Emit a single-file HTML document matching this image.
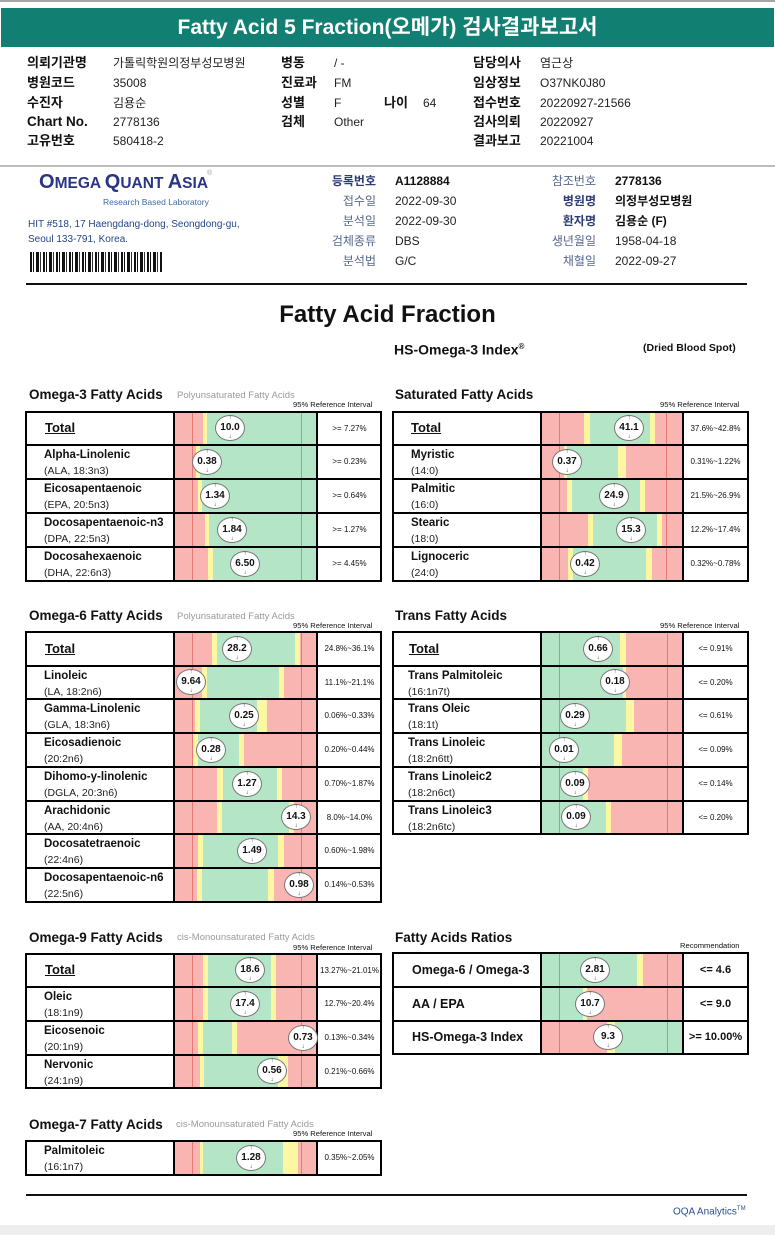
<!DOCTYPE html>
<html><head><meta charset="utf-8">
<style>
html,body{margin:0;padding:0;background:#fff}
body{width:775px;height:1235px;position:relative;overflow:hidden;font-family:"Liberation Sans","Noto Sans CJK KR",sans-serif;color:#111}
.a{position:absolute;white-space:nowrap}
.s{position:absolute}
.r{background:#f8b5b2}
.y{background:#fbf7a3}
.g{background:#b4e5c6}
.lr{position:absolute;width:1px;background:#e77874}
.lg{position:absolute;width:1px;background:#66c086}
.hb{position:absolute;height:2px;background:#000}
.vb{position:absolute;width:2px;background:#000}
.bx{position:absolute;border:2px solid #000;box-sizing:border-box}
.bb{position:absolute;width:30px;height:26px;border:1px solid #777;box-sizing:border-box;border-radius:50%;background:#fff;font:bold 10px/24px "Liberation Sans",sans-serif;text-align:center;color:#111}
.bb:before{content:"↑";position:absolute;left:0;right:0;top:-1px;font-size:6px;line-height:7px;font-weight:normal;color:#333}
.bb:after{content:"↓";position:absolute;left:0;right:0;bottom:-1px;font-size:6px;line-height:7px;font-weight:normal;color:#333}
.nm{position:absolute;font-weight:bold;font-size:11.5px;line-height:14px;white-space:nowrap}
.sb{position:absolute;font-size:10.5px;line-height:14px;white-space:nowrap;color:#222}
.tt{position:absolute;font-weight:bold;font-size:13px;line-height:16px;text-decoration:underline}
.rg{position:absolute;font-size:8px;text-align:center;white-space:nowrap}
.st{position:absolute;font-weight:bold;font-size:13.5px;line-height:16px;white-space:nowrap}
.ss{position:absolute;font-size:9.5px;line-height:12px;color:#9a9a9a;white-space:nowrap}
.ri{position:absolute;font-size:7.6px;line-height:10px;white-space:nowrap}
.lb{position:absolute;font-weight:bold;font-size:13px;line-height:16px;white-space:nowrap}
.vl{position:absolute;font-size:12px;line-height:16px;white-space:nowrap;color:#222}
.ml{position:absolute;font-size:12px;line-height:16px;white-space:nowrap;color:#56678e;text-align:right}
.mlb{position:absolute;font-size:12px;line-height:16px;white-space:nowrap;color:#2b3d73;font-weight:bold;text-align:right}
.mv{position:absolute;font-size:12px;line-height:16px;white-space:nowrap;color:#222}
.mvb{position:absolute;font-size:12px;line-height:16px;white-space:nowrap;color:#111;font-weight:bold}
.rn{position:absolute;font-weight:bold;font-size:12.5px;white-space:nowrap}
.rr{position:absolute;font-weight:bold;font-size:11px;text-align:center;white-space:nowrap}
</style></head><body>

<!-- top -->
<div class="s" style="left:0;top:0;width:775px;height:2px;background:#a5a5a5"></div>
<div class="s" style="left:1px;top:8px;width:773px;height:39px;background:#127f73"></div>
<div class="a" style="left:0;top:8px;width:775px;text-align:center;color:#fff;font-weight:bold;font-size:21px;line-height:39px">Fatty Acid 5 Fraction(오메가) 검사결과보고서</div>

<div class="lb" style="left:27px;top:55px">의뢰기관명</div>
<div class="lb" style="left:27px;top:75px">병원코드</div>
<div class="lb" style="left:27px;top:95px">수진자</div>
<div class="lb" style="left:27px;top:114px;font-size:13.5px">Chart No.</div>
<div class="lb" style="left:27px;top:133px">고유번호</div>
<div class="vl" style="left:113px;top:55px">가톨릭학원의정부성모병원</div>
<div class="vl" style="left:113px;top:75px">35008</div>
<div class="vl" style="left:113px;top:95px">김용순</div>
<div class="vl" style="left:113px;top:114px">2778136</div>
<div class="vl" style="left:113px;top:133px">580418-2</div>

<div class="lb" style="left:281px;top:55px">병동</div>
<div class="lb" style="left:281px;top:75px">진료과</div>
<div class="lb" style="left:281px;top:95px">성별</div>
<div class="lb" style="left:281px;top:114px">검체</div>
<div class="vl" style="left:334px;top:55px">/ -</div>
<div class="vl" style="left:334px;top:75px">FM</div>
<div class="vl" style="left:334px;top:95px">F</div>
<div class="vl" style="left:334px;top:114px">Other</div>
<div class="lb" style="left:384px;top:95px">나이</div>
<div class="vl" style="left:423px;top:95px">64</div>

<div class="lb" style="left:473px;top:55px">담당의사</div>
<div class="lb" style="left:473px;top:75px">임상정보</div>
<div class="lb" style="left:473px;top:95px">접수번호</div>
<div class="lb" style="left:473px;top:114px">검사의뢰</div>
<div class="lb" style="left:473px;top:133px">결과보고</div>
<div class="vl" style="left:540px;top:55px">염근상</div>
<div class="vl" style="left:540px;top:75px">O37NK0J80</div>
<div class="vl" style="left:540px;top:95px">20220927-21566</div>
<div class="vl" style="left:540px;top:114px">20220927</div>
<div class="vl" style="left:540px;top:133px">20221004</div>

<div class="s" style="left:0;top:165px;width:775px;height:2px;background:#bdbdbd"></div>

<!-- lab -->
<div class="a" style="left:39px;top:170px;color:#2b3585;font-weight:bold;line-height:24px"><span style="font-size:20px">O</span><span style="font-size:15.5px">MEGA </span><span style="font-size:20px">Q</span><span style="font-size:15.5px">UANT </span><span style="font-size:20px">A</span><span style="font-size:15.5px">SIA</span></div>
<div class="a" style="left:207px;top:170px;font-size:7px;color:#999">®</div>
<div class="a" style="left:103px;top:196px;font-size:8.5px;line-height:12px;color:#3b6aa5">Research Based Laboratory</div>
<div class="a" style="left:28px;top:218px;font-size:10px;line-height:13px;color:#24468a">HIT #518, 17 Haengdang-dong, Seongdong-gu,</div>
<div class="a" style="left:28px;top:233px;font-size:10px;line-height:13px;color:#24468a">Seoul 133-791, Korea.</div>
<div class="s" style="left:30px;top:252px;width:133px;height:20px;background:repeating-linear-gradient(90deg,#111 0 2px,#fff 2px 3px,#111 3px 4px,#fff 4px 6px,#111 6px 9px,#fff 9px 10px,#333 10px 11px,#fff 11px 13px)"></div>

<div class="mlb" style="right:399px;top:173px">등록번호</div>
<div class="ml" style="right:399px;top:193px">접수일</div>
<div class="ml" style="right:399px;top:213px">분석일</div>
<div class="ml" style="right:399px;top:233px">검체종류</div>
<div class="ml" style="right:399px;top:253px">분석법</div>
<div class="mvb" style="left:395px;top:173px">A1128884</div>
<div class="mv" style="left:395px;top:193px">2022-09-30</div>
<div class="mv" style="left:395px;top:213px">2022-09-30</div>
<div class="mv" style="left:395px;top:233px">DBS</div>
<div class="mv" style="left:395px;top:253px">G/C</div>

<div class="ml" style="right:179px;top:173px">참조번호</div>
<div class="mlb" style="right:179px;top:193px">병원명</div>
<div class="mlb" style="right:179px;top:213px">환자명</div>
<div class="ml" style="right:179px;top:233px">생년월일</div>
<div class="ml" style="right:179px;top:253px">채혈일</div>
<div class="mvb" style="left:615px;top:173px">2778136</div>
<div class="mvb" style="left:615px;top:193px">의정부성모병원</div>
<div class="mvb" style="left:615px;top:213px">김용순 (F)</div>
<div class="mv" style="left:615px;top:233px">1958-04-18</div>
<div class="mv" style="left:615px;top:253px">2022-09-27</div>

<div class="s" style="left:26px;top:283px;width:721px;height:2px;background:#111"></div>

<div class="a" style="left:0;top:301px;width:775px;text-align:center;font-weight:bold;font-size:24px;line-height:28px">Fatty Acid Fraction</div>
<div class="a" style="left:394px;top:338px;font-weight:bold;font-size:14px;line-height:18px">HS-Omega-3 Index<sup style="font-size:8px">®</sup></div>
<div class="a" style="left:643px;top:341px;font-weight:bold;font-size:10.5px;line-height:14px">(Dried Blood Spot)</div>

<!-- ===== Omega-3 ===== -->
<div class="st" style="left:29px;top:387px">Omega-3 Fatty Acids</div>
<div class="ss" style="left:177px;top:390px">Polyunsaturated Fatty Acids</div>
<div class="ri" style="left:293px;top:400px">95% Reference Interval</div>

<div class="s r" style="left:175px;top:412px;width:28px;height:33px"></div><div class="s y" style="left:203px;top:412px;width:4px;height:33px"></div><div class="s g" style="left:207px;top:412px;width:109px;height:33px"></div>
<div class="s r" style="left:175px;top:445px;width:21px;height:34px"></div><div class="s y" style="left:196px;top:445px;width:4px;height:34px"></div><div class="s g" style="left:200px;top:445px;width:116px;height:34px"></div>
<div class="s r" style="left:175px;top:479px;width:23px;height:34px"></div><div class="s y" style="left:198px;top:479px;width:4px;height:34px"></div><div class="s g" style="left:202px;top:479px;width:114px;height:34px"></div>
<div class="s r" style="left:175px;top:513px;width:30px;height:34px"></div><div class="s y" style="left:205px;top:513px;width:4px;height:34px"></div><div class="s g" style="left:209px;top:513px;width:107px;height:34px"></div>
<div class="s r" style="left:175px;top:547px;width:33px;height:34px"></div><div class="s y" style="left:208px;top:547px;width:5px;height:34px"></div><div class="s g" style="left:213px;top:547px;width:103px;height:34px"></div>
<div class="lr" style="left:192px;top:412px;height:169px"></div>
<div class="lg" style="left:301px;top:412px;height:169px"></div>
<div class="bx" style="left:25px;top:411px;width:357px;height:171px"></div>
<div class="vb" style="left:173px;top:411px;height:171px"></div>
<div class="vb" style="left:316px;top:411px;height:171px"></div>
<div class="hb" style="left:25px;top:444px;width:357px"></div>
<div class="hb" style="left:25px;top:478px;width:357px"></div>
<div class="hb" style="left:25px;top:512px;width:357px"></div>
<div class="hb" style="left:25px;top:546px;width:357px"></div>
<div class="tt" style="left:45px;top:420px">Total</div>
<div class="nm" style="left:44px;top:448px">Alpha-Linolenic</div><div class="sb" style="left:44px;top:464px">(ALA, 18:3n3)</div>
<div class="nm" style="left:44px;top:482px">Eicosapentaenoic</div><div class="sb" style="left:44px;top:498px">(EPA, 20:5n3)</div>
<div class="nm" style="left:44px;top:516px">Docosapentaenoic-n3</div><div class="sb" style="left:44px;top:532px">(DPA, 22:5n3)</div>
<div class="nm" style="left:44px;top:550px">Docosahexaenoic</div><div class="sb" style="left:44px;top:566px">(DHA, 22:6n3)</div>
<div class="rg" style="left:318px;top:412px;width:63px;line-height:33px">&gt;= 7.27%</div>
<div class="rg" style="left:318px;top:445px;width:63px;line-height:34px">&gt;= 0.23%</div>
<div class="rg" style="left:318px;top:479px;width:63px;line-height:34px">&gt;= 0.64%</div>
<div class="rg" style="left:318px;top:513px;width:63px;line-height:34px">&gt;= 1.27%</div>
<div class="rg" style="left:318px;top:547px;width:63px;line-height:34px">&gt;= 4.45%</div>
<div class="bb" style="left:215px;top:415px">10.0</div>
<div class="bb" style="left:192px;top:449px">0.38</div>
<div class="bb" style="left:200px;top:483px">1.34</div>
<div class="bb" style="left:217px;top:517px">1.84</div>
<div class="bb" style="left:230px;top:551px">6.50</div>

<!-- ===== Saturated ===== -->
<div class="st" style="left:395px;top:387px">Saturated Fatty Acids</div>
<div class="ri" style="left:660px;top:400px">95% Reference Interval</div>

<div class="s r" style="left:542px;top:412px;width:42px;height:33px"></div><div class="s y" style="left:584px;top:412px;width:6px;height:33px"></div><div class="s g" style="left:590px;top:412px;width:60px;height:33px"></div><div class="s y" style="left:650px;top:412px;width:5px;height:33px"></div><div class="s r" style="left:655px;top:412px;width:27px;height:33px"></div>
<div class="s r" style="left:542px;top:445px;width:22px;height:34px"></div><div class="s y" style="left:564px;top:445px;width:3px;height:34px"></div><div class="s g" style="left:567px;top:445px;width:51px;height:34px"></div><div class="s y" style="left:618px;top:445px;width:8px;height:34px"></div><div class="s r" style="left:626px;top:445px;width:56px;height:34px"></div>
<div class="s r" style="left:542px;top:479px;width:25px;height:34px"></div><div class="s y" style="left:567px;top:479px;width:5px;height:34px"></div><div class="s g" style="left:572px;top:479px;width:68px;height:34px"></div><div class="s y" style="left:640px;top:479px;width:5px;height:34px"></div><div class="s r" style="left:645px;top:479px;width:37px;height:34px"></div>
<div class="s r" style="left:542px;top:513px;width:46px;height:34px"></div><div class="s y" style="left:588px;top:513px;width:5px;height:34px"></div><div class="s g" style="left:593px;top:513px;width:64px;height:34px"></div><div class="s y" style="left:657px;top:513px;width:5px;height:34px"></div><div class="s r" style="left:662px;top:513px;width:20px;height:34px"></div>
<div class="s r" style="left:542px;top:547px;width:26px;height:34px"></div><div class="s y" style="left:568px;top:547px;width:5px;height:34px"></div><div class="s g" style="left:573px;top:547px;width:73px;height:34px"></div><div class="s y" style="left:646px;top:547px;width:6px;height:34px"></div><div class="s r" style="left:652px;top:547px;width:30px;height:34px"></div>
<div class="lr" style="left:559px;top:412px;height:169px"></div>
<div class="lr" style="left:666px;top:412px;height:169px"></div>
<div class="bx" style="left:392px;top:411px;width:357px;height:171px"></div>
<div class="vb" style="left:540px;top:411px;height:171px"></div>
<div class="vb" style="left:682px;top:411px;height:171px"></div>
<div class="hb" style="left:392px;top:444px;width:357px"></div>
<div class="hb" style="left:392px;top:478px;width:357px"></div>
<div class="hb" style="left:392px;top:512px;width:357px"></div>
<div class="hb" style="left:392px;top:546px;width:357px"></div>
<div class="tt" style="left:411px;top:420px">Total</div>
<div class="nm" style="left:411px;top:448px">Myristic</div><div class="sb" style="left:411px;top:464px">(14:0)</div>
<div class="nm" style="left:411px;top:482px">Palmitic</div><div class="sb" style="left:411px;top:498px">(16:0)</div>
<div class="nm" style="left:411px;top:516px">Stearic</div><div class="sb" style="left:411px;top:532px">(18:0)</div>
<div class="nm" style="left:411px;top:550px">Lignoceric</div><div class="sb" style="left:411px;top:566px">(24:0)</div>
<div class="rg" style="left:684px;top:412px;width:63px;line-height:33px">37.6%~42.8%</div>
<div class="rg" style="left:684px;top:445px;width:63px;line-height:34px">0.31%~1.22%</div>
<div class="rg" style="left:684px;top:479px;width:63px;line-height:34px">21.5%~26.9%</div>
<div class="rg" style="left:684px;top:513px;width:63px;line-height:34px">12.2%~17.4%</div>
<div class="rg" style="left:684px;top:547px;width:63px;line-height:34px">0.32%~0.78%</div>
<div class="bb" style="left:614px;top:415px">41.1</div>
<div class="bb" style="left:552px;top:449px">0.37</div>
<div class="bb" style="left:599px;top:483px">24.9</div>
<div class="bb" style="left:616px;top:517px">15.3</div>
<div class="bb" style="left:570px;top:551px">0.42</div>

<!-- ===== Omega-6 ===== -->
<div class="st" style="left:29px;top:608px">Omega-6 Fatty Acids</div>
<div class="ss" style="left:177px;top:611px">Polyunsaturated Fatty Acids</div>
<div class="ri" style="left:293px;top:621px">95% Reference Interval</div>

<div class="s r" style="left:175px;top:632px;width:37px;height:34px"></div><div class="s y" style="left:212px;top:632px;width:5px;height:34px"></div><div class="s g" style="left:217px;top:632px;width:78px;height:34px"></div><div class="s y" style="left:295px;top:632px;width:5px;height:34px"></div><div class="s r" style="left:300px;top:632px;width:16px;height:34px"></div>
<div class="s r" style="left:175px;top:666px;width:27px;height:33px"></div><div class="s y" style="left:202px;top:666px;width:5px;height:33px"></div><div class="s g" style="left:207px;top:666px;width:72px;height:33px"></div><div class="s y" style="left:279px;top:666px;width:5px;height:33px"></div><div class="s r" style="left:284px;top:666px;width:32px;height:33px"></div>
<div class="s r" style="left:175px;top:699px;width:20px;height:34px"></div><div class="s y" style="left:195px;top:699px;width:5px;height:34px"></div><div class="s g" style="left:200px;top:699px;width:57px;height:34px"></div><div class="s y" style="left:257px;top:699px;width:10px;height:34px"></div><div class="s r" style="left:267px;top:699px;width:49px;height:34px"></div>
<div class="s r" style="left:175px;top:733px;width:18px;height:34px"></div><div class="s y" style="left:193px;top:733px;width:5px;height:34px"></div><div class="s g" style="left:198px;top:733px;width:41px;height:34px"></div><div class="s y" style="left:239px;top:733px;width:5px;height:34px"></div><div class="s r" style="left:244px;top:733px;width:72px;height:34px"></div>
<div class="s r" style="left:175px;top:767px;width:42px;height:34px"></div><div class="s y" style="left:217px;top:767px;width:6px;height:34px"></div><div class="s g" style="left:223px;top:767px;width:54px;height:34px"></div><div class="s y" style="left:277px;top:767px;width:5px;height:34px"></div><div class="s r" style="left:282px;top:767px;width:34px;height:34px"></div>
<div class="s r" style="left:175px;top:801px;width:42px;height:33px"></div><div class="s y" style="left:217px;top:801px;width:5px;height:33px"></div><div class="s g" style="left:222px;top:801px;width:67px;height:33px"></div><div class="s y" style="left:289px;top:801px;width:5px;height:33px"></div><div class="s r" style="left:294px;top:801px;width:22px;height:33px"></div>
<div class="s r" style="left:175px;top:834px;width:23px;height:34px"></div><div class="s y" style="left:198px;top:834px;width:5px;height:34px"></div><div class="s g" style="left:203px;top:834px;width:75px;height:34px"></div><div class="s y" style="left:278px;top:834px;width:6px;height:34px"></div><div class="s r" style="left:284px;top:834px;width:32px;height:34px"></div>
<div class="s r" style="left:175px;top:868px;width:22px;height:34px"></div><div class="s y" style="left:197px;top:868px;width:5px;height:34px"></div><div class="s g" style="left:202px;top:868px;width:66px;height:34px"></div><div class="s y" style="left:268px;top:868px;width:6px;height:34px"></div><div class="s r" style="left:274px;top:868px;width:42px;height:34px"></div>
<div class="lr" style="left:192px;top:632px;height:270px"></div>
<div class="lr" style="left:301px;top:632px;height:270px"></div>
<div class="bx" style="left:25px;top:631px;width:357px;height:272px"></div>
<div class="vb" style="left:173px;top:631px;height:272px"></div>
<div class="vb" style="left:316px;top:631px;height:272px"></div>
<div class="hb" style="left:25px;top:665px;width:357px"></div>
<div class="hb" style="left:25px;top:698px;width:357px"></div>
<div class="hb" style="left:25px;top:732px;width:357px"></div>
<div class="hb" style="left:25px;top:766px;width:357px"></div>
<div class="hb" style="left:25px;top:800px;width:357px"></div>
<div class="hb" style="left:25px;top:833px;width:357px"></div>
<div class="hb" style="left:25px;top:867px;width:357px"></div>
<div class="tt" style="left:45px;top:641px">Total</div>
<div class="nm" style="left:44px;top:669px">Linoleic</div><div class="sb" style="left:44px;top:685px">(LA, 18:2n6)</div>
<div class="nm" style="left:44px;top:702px">Gamma-Linolenic</div><div class="sb" style="left:44px;top:718px">(GLA, 18:3n6)</div>
<div class="nm" style="left:44px;top:736px">Eicosadienoic</div><div class="sb" style="left:44px;top:752px">(20:2n6)</div>
<div class="nm" style="left:44px;top:770px">Dihomo-y-linolenic</div><div class="sb" style="left:44px;top:786px">(DGLA, 20:3n6)</div>
<div class="nm" style="left:44px;top:804px">Arachidonic</div><div class="sb" style="left:44px;top:820px">(AA, 20:4n6)</div>
<div class="nm" style="left:44px;top:837px">Docosatetraenoic</div><div class="sb" style="left:44px;top:853px">(22:4n6)</div>
<div class="nm" style="left:44px;top:871px">Docosapentaenoic-n6</div><div class="sb" style="left:44px;top:887px">(22:5n6)</div>
<div class="rg" style="left:318px;top:632px;width:63px;line-height:34px">24.8%~36.1%</div>
<div class="rg" style="left:318px;top:666px;width:63px;line-height:33px">11.1%~21.1%</div>
<div class="rg" style="left:318px;top:699px;width:63px;line-height:34px">0.06%~0.33%</div>
<div class="rg" style="left:318px;top:733px;width:63px;line-height:34px">0.20%~0.44%</div>
<div class="rg" style="left:318px;top:767px;width:63px;line-height:34px">0.70%~1.87%</div>
<div class="rg" style="left:318px;top:801px;width:63px;line-height:33px">8.0%~14.0%</div>
<div class="rg" style="left:318px;top:834px;width:63px;line-height:34px">0.60%~1.98%</div>
<div class="rg" style="left:318px;top:868px;width:63px;line-height:34px">0.14%~0.53%</div>
<div class="bb" style="left:222px;top:636px">28.2</div>
<div class="bb" style="left:176px;top:669px">9.64</div>
<div class="bb" style="left:229px;top:703px">0.25</div>
<div class="bb" style="left:196px;top:737px">0.28</div>
<div class="bb" style="left:232px;top:771px">1.27</div>
<div class="bb" style="left:281px;top:804px">14.3</div>
<div class="bb" style="left:237px;top:838px">1.49</div>
<div class="bb" style="left:284px;top:872px">0.98</div>

<!-- ===== Trans ===== -->
<div class="st" style="left:395px;top:608px">Trans Fatty Acids</div>
<div class="ri" style="left:660px;top:621px">95% Reference Interval</div>

<div class="s g" style="left:542px;top:632px;width:78px;height:34px"></div><div class="s y" style="left:620px;top:632px;width:6px;height:34px"></div><div class="s r" style="left:626px;top:632px;width:56px;height:34px"></div>
<div class="s g" style="left:542px;top:666px;width:81px;height:33px"></div><div class="s y" style="left:623px;top:666px;width:3px;height:33px"></div><div class="s r" style="left:626px;top:666px;width:56px;height:33px"></div>
<div class="s g" style="left:542px;top:699px;width:84px;height:34px"></div><div class="s y" style="left:626px;top:699px;width:8px;height:34px"></div><div class="s r" style="left:634px;top:699px;width:48px;height:34px"></div>
<div class="s g" style="left:542px;top:733px;width:72px;height:34px"></div><div class="s y" style="left:614px;top:733px;width:8px;height:34px"></div><div class="s r" style="left:622px;top:733px;width:60px;height:34px"></div>
<div class="s g" style="left:542px;top:767px;width:41px;height:34px"></div><div class="s y" style="left:583px;top:767px;width:5px;height:34px"></div><div class="s r" style="left:588px;top:767px;width:94px;height:34px"></div>
<div class="s g" style="left:542px;top:801px;width:64px;height:33px"></div><div class="s y" style="left:606px;top:801px;width:5px;height:33px"></div><div class="s r" style="left:611px;top:801px;width:71px;height:33px"></div>
<div class="lg" style="left:559px;top:632px;height:202px"></div>
<div class="lr" style="left:667px;top:632px;height:202px"></div>
<div class="bx" style="left:392px;top:631px;width:357px;height:204px"></div>
<div class="vb" style="left:540px;top:631px;height:204px"></div>
<div class="vb" style="left:682px;top:631px;height:204px"></div>
<div class="hb" style="left:392px;top:665px;width:357px"></div>
<div class="hb" style="left:392px;top:698px;width:357px"></div>
<div class="hb" style="left:392px;top:732px;width:357px"></div>
<div class="hb" style="left:392px;top:766px;width:357px"></div>
<div class="hb" style="left:392px;top:800px;width:357px"></div>
<div class="tt" style="left:409px;top:641px">Total</div>
<div class="nm" style="left:408px;top:669px">Trans Palmitoleic</div><div class="sb" style="left:408px;top:685px">(16:1n7t)</div>
<div class="nm" style="left:408px;top:702px">Trans Oleic</div><div class="sb" style="left:408px;top:718px">(18:1t)</div>
<div class="nm" style="left:408px;top:736px">Trans Linoleic</div><div class="sb" style="left:408px;top:752px">(18:2n6tt)</div>
<div class="nm" style="left:408px;top:770px">Trans Linoleic2</div><div class="sb" style="left:408px;top:786px">(18:2n6ct)</div>
<div class="nm" style="left:408px;top:804px">Trans Linoleic3</div><div class="sb" style="left:408px;top:820px">(18:2n6tc)</div>
<div class="rg" style="left:684px;top:632px;width:63px;line-height:34px">&lt;= 0.91%</div>
<div class="rg" style="left:684px;top:666px;width:63px;line-height:33px">&lt;= 0.20%</div>
<div class="rg" style="left:684px;top:699px;width:63px;line-height:34px">&lt;= 0.61%</div>
<div class="rg" style="left:684px;top:733px;width:63px;line-height:34px">&lt;= 0.09%</div>
<div class="rg" style="left:684px;top:767px;width:63px;line-height:34px">&lt;= 0.14%</div>
<div class="rg" style="left:684px;top:801px;width:63px;line-height:33px">&lt;= 0.20%</div>
<div class="bb" style="left:583px;top:636px">0.66</div>
<div class="bb" style="left:600px;top:669px">0.18</div>
<div class="bb" style="left:560px;top:703px">0.29</div>
<div class="bb" style="left:549px;top:737px">0.01</div>
<div class="bb" style="left:560px;top:771px">0.09</div>
<div class="bb" style="left:561px;top:804px">0.09</div>

<!-- ===== Omega-9 ===== -->
<div class="st" style="left:29px;top:930px">Omega-9 Fatty Acids</div>
<div class="ss" style="left:177px;top:932px">cis-Monounsaturated Fatty Acids</div>
<div class="ri" style="left:293px;top:943px">95% Reference Interval</div>

<div class="s r" style="left:175px;top:954px;width:28px;height:33px"></div><div class="s y" style="left:203px;top:954px;width:5px;height:33px"></div><div class="s g" style="left:208px;top:954px;width:63px;height:33px"></div><div class="s y" style="left:271px;top:954px;width:5px;height:33px"></div><div class="s r" style="left:276px;top:954px;width:40px;height:33px"></div>
<div class="s r" style="left:175px;top:987px;width:28px;height:34px"></div><div class="s y" style="left:203px;top:987px;width:5px;height:34px"></div><div class="s g" style="left:208px;top:987px;width:63px;height:34px"></div><div class="s y" style="left:271px;top:987px;width:5px;height:34px"></div><div class="s r" style="left:276px;top:987px;width:40px;height:34px"></div>
<div class="s r" style="left:175px;top:1021px;width:23px;height:34px"></div><div class="s y" style="left:198px;top:1021px;width:5px;height:34px"></div><div class="s g" style="left:203px;top:1021px;width:29px;height:34px"></div><div class="s y" style="left:232px;top:1021px;width:5px;height:34px"></div><div class="s r" style="left:237px;top:1021px;width:79px;height:34px"></div>
<div class="s r" style="left:175px;top:1055px;width:25px;height:33px"></div><div class="s y" style="left:200px;top:1055px;width:4px;height:33px"></div><div class="s g" style="left:204px;top:1055px;width:74px;height:33px"></div><div class="s y" style="left:278px;top:1055px;width:10px;height:33px"></div><div class="s r" style="left:288px;top:1055px;width:28px;height:33px"></div>
<div class="lr" style="left:192px;top:954px;height:134px"></div>
<div class="lr" style="left:301px;top:954px;height:134px"></div>
<div class="bx" style="left:25px;top:953px;width:357px;height:136px"></div>
<div class="vb" style="left:173px;top:953px;height:136px"></div>
<div class="vb" style="left:316px;top:953px;height:136px"></div>
<div class="hb" style="left:25px;top:986px;width:357px"></div>
<div class="hb" style="left:25px;top:1020px;width:357px"></div>
<div class="hb" style="left:25px;top:1054px;width:357px"></div>
<div class="tt" style="left:45px;top:962px">Total</div>
<div class="nm" style="left:44px;top:990px">Oleic</div><div class="sb" style="left:44px;top:1006px">(18:1n9)</div>
<div class="nm" style="left:44px;top:1024px">Eicosenoic</div><div class="sb" style="left:44px;top:1040px">(20:1n9)</div>
<div class="nm" style="left:44px;top:1058px">Nervonic</div><div class="sb" style="left:44px;top:1074px">(24:1n9)</div>
<div class="rg" style="left:318px;top:954px;width:63px;line-height:33px">13.27%~21.01%</div>
<div class="rg" style="left:318px;top:987px;width:63px;line-height:34px">12.7%~20.4%</div>
<div class="rg" style="left:318px;top:1021px;width:63px;line-height:34px">0.13%~0.34%</div>
<div class="rg" style="left:318px;top:1055px;width:63px;line-height:33px">0.21%~0.66%</div>
<div class="bb" style="left:235px;top:957px">18.6</div>
<div class="bb" style="left:230px;top:991px">17.4</div>
<div class="bb" style="left:288px;top:1025px">0.73</div>
<div class="bb" style="left:257px;top:1058px">0.56</div>

<!-- ===== Ratios ===== -->
<div class="st" style="left:395px;top:930px">Fatty Acids Ratios</div>
<div class="ri" style="left:680px;top:941px">Recommendation</div>

<div class="s g" style="left:542px;top:953px;width:95px;height:34px"></div><div class="s y" style="left:637px;top:953px;width:6px;height:34px"></div><div class="s r" style="left:643px;top:953px;width:39px;height:34px"></div>
<div class="s g" style="left:542px;top:987px;width:41px;height:34px"></div><div class="s y" style="left:583px;top:987px;width:4px;height:34px"></div><div class="s r" style="left:587px;top:987px;width:95px;height:34px"></div>
<div class="s r" style="left:542px;top:1021px;width:65px;height:33px"></div><div class="s y" style="left:607px;top:1021px;width:8px;height:33px"></div><div class="s g" style="left:615px;top:1021px;width:67px;height:33px"></div>
<div class="lg" style="left:559px;top:953px;height:68px"></div>
<div class="lr" style="left:667px;top:953px;height:68px"></div>
<div class="lr" style="left:559px;top:1021px;height:33px"></div>
<div class="lg" style="left:667px;top:1021px;height:33px"></div>
<div class="bx" style="left:392px;top:952px;width:357px;height:103px"></div>
<div class="vb" style="left:540px;top:952px;height:103px"></div>
<div class="vb" style="left:682px;top:952px;height:103px"></div>
<div class="hb" style="left:392px;top:986px;width:357px"></div>
<div class="hb" style="left:392px;top:1020px;width:357px"></div>
<div class="rn" style="left:412px;top:953px;line-height:34px">Omega-6 / Omega-3</div>
<div class="rn" style="left:412px;top:987px;line-height:34px">AA / EPA</div>
<div class="rn" style="left:412px;top:1021px;line-height:33px">HS-Omega-3 Index</div>
<div class="rr" style="left:684px;top:953px;width:63px;line-height:34px">&lt;= 4.6</div>
<div class="rr" style="left:684px;top:987px;width:63px;line-height:34px">&lt;= 9.0</div>
<div class="rr" style="left:684px;top:1021px;width:63px;line-height:33px">&gt;= 10.00%</div>
<div class="bb" style="left:580px;top:957px">2.81</div>
<div class="bb" style="left:575px;top:991px">10.7</div>
<div class="bb" style="left:593px;top:1024px">9.3</div>

<!-- ===== Omega-7 ===== -->
<div class="st" style="left:29px;top:1117px">Omega-7 Fatty Acids</div>
<div class="ss" style="left:176px;top:1119px">cis-Monounsaturated Fatty Acids</div>
<div class="ri" style="left:293px;top:1129px">95% Reference Interval</div>

<div class="s r" style="left:175px;top:1141px;width:25px;height:34px"></div><div class="s y" style="left:200px;top:1141px;width:3px;height:34px"></div><div class="s g" style="left:203px;top:1141px;width:80px;height:34px"></div><div class="s y" style="left:283px;top:1141px;width:15px;height:34px"></div><div class="s r" style="left:298px;top:1141px;width:18px;height:34px"></div>
<div class="lr" style="left:192px;top:1141px;height:34px"></div>
<div class="lr" style="left:301px;top:1141px;height:34px"></div>
<div class="bx" style="left:25px;top:1140px;width:357px;height:36px"></div>
<div class="vb" style="left:173px;top:1140px;height:36px"></div>
<div class="vb" style="left:316px;top:1140px;height:36px"></div>
<div class="nm" style="left:44px;top:1144px">Palmitoleic</div><div class="sb" style="left:44px;top:1160px">(16:1n7)</div>
<div class="rg" style="left:318px;top:1141px;width:63px;line-height:34px">0.35%~2.05%</div>
<div class="bb" style="left:236px;top:1145px">1.28</div>

<!-- footer -->
<div class="s" style="left:26px;top:1194px;width:721px;height:2px;background:#111"></div>
<div class="a" style="left:673px;top:1202px;font-size:10px;line-height:14px;color:#2b4f8e">OQA Analytics<sup style="font-size:6px">TM</sup></div>
<div class="s" style="left:0;top:1225px;width:775px;height:10px;background:#eeeeee"></div>

</body></html>
